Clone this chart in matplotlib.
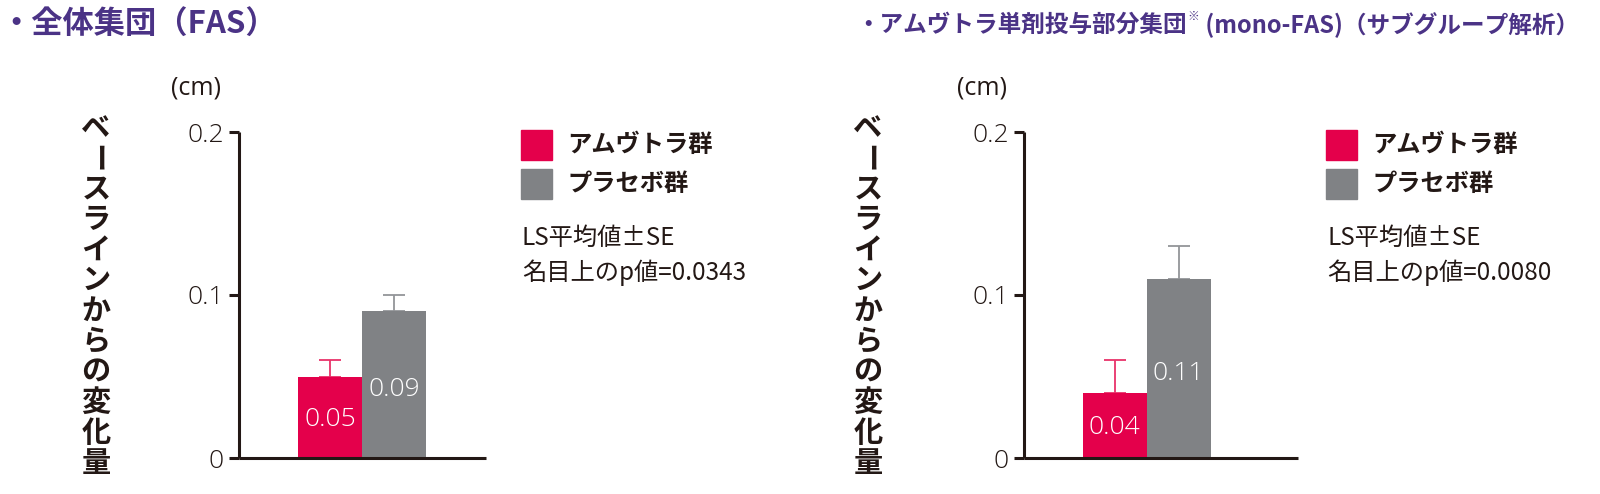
import matplotlib
matplotlib.use('Agg')
import matplotlib.pyplot as plt
from matplotlib.patches import Rectangle

plt.rcParams['font.family'] = ['Noto Sans CJK JP', 'DejaVu Sans']

# ---------------- data ----------------
groups = ['アムヴトラ群', 'プラセボ群']
fas_values = [0.05, 0.09]
fas_se = [0.01, 0.01]
fas_labels = ['0.05', '0.09']
fas_p = '名目上のp値=0.0343'
mono_values = [0.04, 0.11]
mono_se = [0.02, 0.02]
mono_labels = ['0.04', '0.11']
mono_p = '名目上のp値=0.0080'
y_ticks = [0, 0.1, 0.2]
y_tick_labels = ['0', '0.1', '0.2']
ylabel_text = 'ベースラインからの変化量'
unit_text = '(cm)'
stat_note = 'LS平均値±SE'
title_left = '・全体集団（FAS）'
title_right_main = '・アムヴトラ単剤投与部分集団'
title_right_mark = '※'
title_right_tail = ' (mono-FAS)（サブグループ解析）'

# ---------------- style ----------------
RED = '#E4004B'
GREY = '#808285'
INK = '#231815'
PURPLE = '#4B3386'
NUM_FONT = ['Open Sans', 'Noto Sans CJK JP', 'DejaVu Sans']
bar_colors = [RED, GREY]
err_colors = ['#E8336A', '#939598']

W, H = 1600, 494
fig = plt.figure(figsize=(W / 100, H / 100), dpi=100)
renderer = fig.canvas.get_renderer()


def fx(x):
    return x / W


def fy(y):
    return 1 - y / H


def panel(ax_l, ax_r, red_c, values, se, labels):
    bw = 64.0
    ax = fig.add_axes([fx(ax_l), fy(458), (ax_r - ax_l) / W, (458 - 132) / H])
    xs = list(range(len(values)))
    for xi, v, s, c, ec in zip(xs, values, se, bar_colors, err_colors):
        ax.errorbar(xi, v, yerr=[[0], [s]], fmt='none', ecolor=ec,
                    elinewidth=1.3, capsize=8, capthick=1.3, zorder=1)
    ax.bar(xs, values, width=1.0, color=bar_colors, edgecolor='none', zorder=2)
    for xi, v, lab in zip(xs, values, labels):
        ax.text(xi, v * 0.47, lab, ha='center', va='center', color='white',
                fontsize=19, fontweight='light', family=NUM_FONT, zorder=3)
    ax.set_xlim(-(red_c - ax_l) / bw, (ax_r - red_c) / bw)
    ax.set_ylim(0, 0.2)
    ax.set_yticks(y_ticks)
    ax.set_yticklabels(y_tick_labels, fontsize=19, fontweight='light',
                       color=INK, family=NUM_FONT)
    ax.set_xticks([])
    for sp in ['top', 'right']:
        ax.spines[sp].set_visible(False)
    for sp in ['left', 'bottom']:
        ax.spines[sp].set_linewidth(2.2)
        ax.spines[sp].set_color(INK)
        ax.spines[sp].set_capstyle('butt')
    ax.tick_params(axis='y', direction='out', length=7.5, width=2.2,
                   color=INK, pad=3.5)
    ax.patch.set_alpha(0)
    return ax


panel(239, 486, 330, fas_values, fas_se, fas_labels)
panel(1024, 1298, 1114.5, mono_values, mono_se, mono_labels)


def vertical_label(xc):
    n = len(ylabel_text)
    y0, y1 = 128, 463
    for i, ch in enumerate(ylabel_text):
        y = y0 + (y1 - y0) * i / (n - 1)
        rot = -90 if ch == 'ー' else 0
        fig.text(fx(xc), fy(y), ch, ha='center', va='center', fontsize=21,
                 fontweight='bold', color=INK, rotation=rot)


vertical_label(96)
vertical_label(868)

for xc in (196, 982):
    fig.text(fx(xc), fy(88), unit_text, ha='center', va='center',
             fontsize=18, color=INK, family=NUM_FONT)


def legend(x0, ptext):
    for i, (g, c) in enumerate(zip(groups, bar_colors)):
        top = 130 + 39 * i
        fig.patches.append(Rectangle((fx(x0), fy(top + 30)), 31 / W, 30 / H,
                                     transform=fig.transFigure, color=c))
        fig.text(fx(x0 + 46), fy(top + 15), g, ha='left', va='center',
                 fontsize=17.5, fontweight='bold', color=INK)
    fig.text(fx(x0 + 1), fy(238), stat_note, ha='left', va='center',
             fontsize=17.5, color=INK)
    fig.text(fx(x0 + 1), fy(273), ptext, ha='left', va='center',
             fontsize=17.5, color=INK)


legend(521, fas_p)
legend(1326, mono_p)

# ---------------- titles ----------------
fig.text(fx(0), fy(25), title_left, ha='left', va='center', fontsize=22.5,
         fontweight='bold', color=PURPLE)


def right_title(fs, x_start):
    t1 = fig.text(fx(x_start), fy(25), title_right_main, ha='left', va='center',
                  fontsize=fs, fontweight='bold', color=PURPLE)
    bb = t1.get_window_extent(renderer)
    t2 = fig.text((bb.x1 + 1) / W, fy(16), title_right_mark, ha='left',
                  va='center', fontsize=fs * 0.5, fontweight='bold', color=PURPLE)
    bb2 = t2.get_window_extent(renderer)
    t3 = fig.text((bb2.x1 + 1) / W, fy(25), title_right_tail, ha='left',
                  va='center', fontsize=fs, fontweight='bold', color=PURPLE)
    return [t1, t2, t3], t3.get_window_extent(renderer).x1


fs = 18.0
while True:
    parts, right_end = right_title(fs, 856)
    if right_end <= 1588 or fs < 12:
        break
    for p in parts:
        p.remove()
    fs -= 0.25

fig.savefig('out.png', dpi=100)
